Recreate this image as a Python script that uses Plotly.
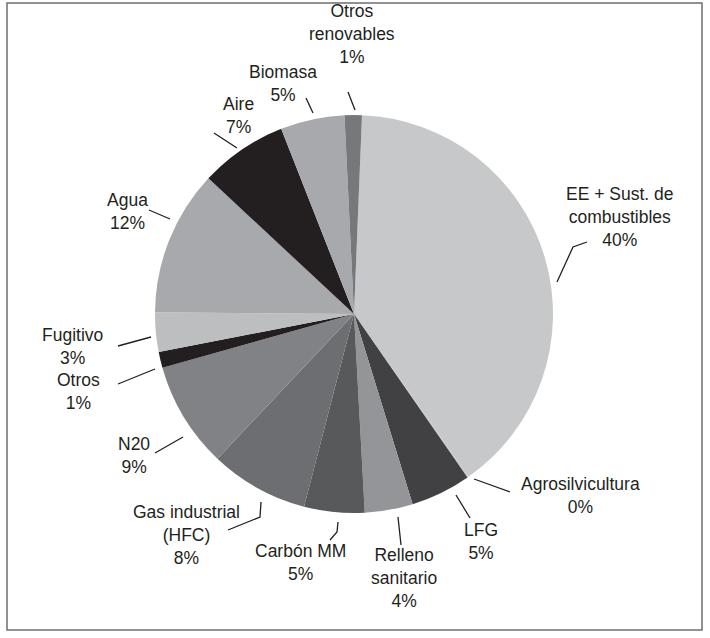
import plotly.graph_objects as go

# Shares by category, clockwise from 12 o'clock
categories = [
    "EE + Sust. de<br>combustibles",
    "Agrosilvicultura",
    "LFG",
    "Relleno<br>sanitario",
    "Carbón MM",
    "Gas industrial<br>(HFC)",
    "N20",
    "Otros",
    "Fugitivo",
    "Agua",
    "Aire",
    "Biomasa",
    "Otros<br>renovables",
]
shares = [39.6, 0.1, 4.9, 3.9, 4.9, 8.0, 8.6, 1.3, 3.2, 11.8, 7.1, 5.2, 1.4]
pct_labels = ["40%", "0%", "5%", "4%", "5%", "8%", "9%", "1%", "3%", "12%", "7%", "5%", "1%"]

slice_colors = [
    "#c7c8ca", "#c7c8ca", "#414042", "#939598", "#58595b", "#6d6e71",
    "#808285", "#231f20", "#bcbec0", "#a7a9ac", "#231f20", "#a7a9ac", "#77787b",
]

W, H = 710, 638
CX, CY, R = 354, 314, 199  # pie centre and radius in pixels


def px(x):
    return x / W


def py(y):
    return 1 - y / H


# label block centres (pixels)
label_pos = [
    (620, 217), (580, 496), (481, 541), (404, 578), (300, 562), (186, 535),
    (134, 456), (78, 391), (72, 346), (127, 211), (238, 115), (283, 83), (352, 34),
]

# leader lines (pixel polylines)
leaders = [
    [(557, 282), (573, 247), (587, 242)],
    [(474, 479), (510, 492)],
    [(456, 495), (470, 518)],
    [(398, 517), (401, 545)],
    [(338, 522), (337, 532), (330, 540)],
    [(261, 502), (260, 517), (228, 530)],
    [(183, 437), (155, 453)],
    [(155, 369), (118, 384)],
    [(151, 337), (118, 346)],
    [(170, 219), (149, 210)],
    [(237, 148), (214, 133)],
    [(313, 113), (306, 98)],
    [(355, 110), (348, 92)],
]

fig = go.Figure(
    go.Pie(
        labels=categories,
        values=shares,
        marker=dict(colors=slice_colors, line=dict(width=0)),
        sort=False,
        direction="clockwise",
        rotation=2.3,
        textinfo="none",
        hoverinfo="label+percent",
        domain=dict(x=[px(CX - R), px(CX + R)], y=[py(CY + R), py(CY - R)]),
    )
)

font = dict(family="Liberation Sans, Arial, sans-serif", size=17.5, color="#231f20")

annotations = []
for name, pct, (lx, ly) in zip(categories, pct_labels, label_pos):
    annotations.append(dict(
        x=px(lx), y=py(ly), xref="paper", yref="paper",
        text=f"{name}<br>{pct}", showarrow=False,
        xanchor="center", yanchor="middle", align="center", font=font,
    ))

shapes = []
for pts in leaders:
    path = "M " + " L ".join(f"{px(x):.5f},{py(y):.5f}" for x, y in pts)
    shapes.append(dict(type="path", path=path, xref="paper", yref="paper",
                       line=dict(color="#231f20", width=1.3)))

# outer frame
shapes.append(dict(type="rect", xref="paper", yref="paper",
                   x0=px(7), x1=px(702), y0=py(630), y1=py(3),
                   line=dict(color="#6d6e71", width=1.5)))

fig.update_layout(
    width=W, height=H,
    margin=dict(l=0, r=0, t=0, b=0),
    paper_bgcolor="white", plot_bgcolor="white",
    showlegend=False,
    annotations=annotations,
    shapes=shapes,
)

fig.write_html("out.html")
